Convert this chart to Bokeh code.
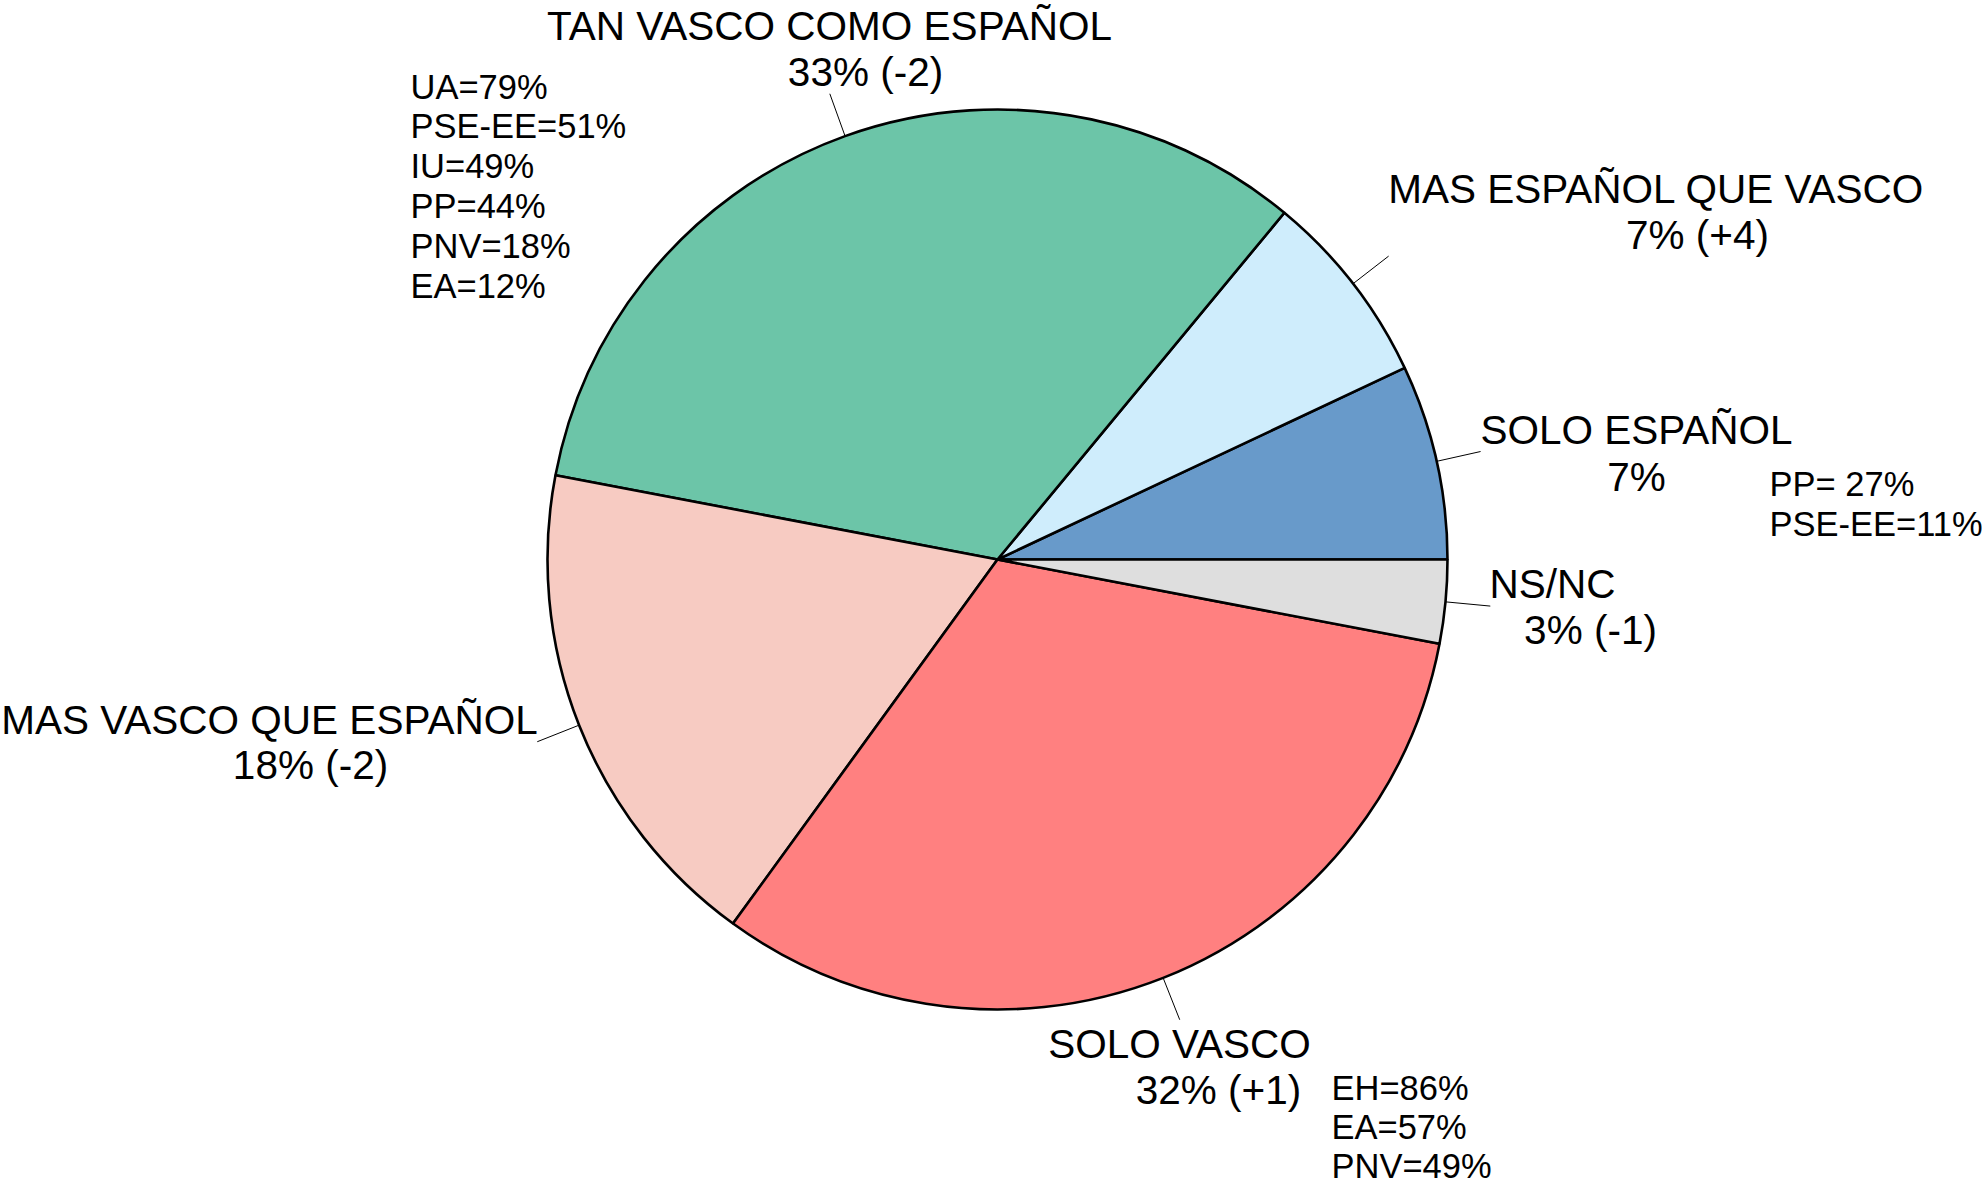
import math
from bokeh.plotting import figure
from bokeh.models import Range1d, ColumnDataSource
from bokeh.core.properties import value
from bokeh.embed import file_html
from bokeh.resources import INLINE

# ---- data ----
categories = ["SOLO ESPAÑOL", "MAS ESPAÑOL QUE VASCO", "TAN VASCO COMO ESPAÑOL",
              "MAS VASCO QUE ESPAÑOL", "SOLO VASCO", "NS/NC"]
shares = [7, 7, 33, 18, 32, 3]
changes = ["", "(+4)", "(-2)", "(-2)", "(+1)", "(-1)"]
colors = ["#689ACA", "#CFEDFC", "#6CC5A8", "#F7CBC2", "#FF8080", "#DEDEDE"]

tan_parties = ["UA=79%", "PSE-EE=51%", "IU=49%", "PP=44%", "PNV=18%", "EA=12%"]
solo_esp_parties = ["PP= 27%", "PSE-EE=11%"]
solo_vasco_parties = ["EH=86%", "EA=57%", "PNV=49%"]

# ---- layout (reference pixel space; y = -pixel row) ----
W, H = 1982, 1191
CX, CY, R = 997, -559, 450
DY = 14  # baseline correction
FONT = value("Liberation Sans")

p = figure(width=W, height=H, output_backend="svg", toolbar_location=None,
           x_range=Range1d(0, W), y_range=Range1d(-H, 0),
           min_border=0, outline_line_color=None, background_fill_color="white")
p.axis.visible = False
p.grid.visible = False

total = sum(shares)
starts, ends, mids = [], [], []
acc = 0.0
for s in shares:
    a0 = 2 * math.pi * acc / total
    acc += s
    a1 = 2 * math.pi * acc / total
    starts.append(a0); ends.append(a1); mids.append((a0 + a1) / 2)

src = ColumnDataSource(dict(x=[CX] * len(shares), y=[CY] * len(shares),
                            start=starts, end=ends, color=colors))
p.wedge(x="x", y="y", radius=R, start_angle="start", end_angle="end",
        fill_color="color", line_color="black", line_width=2.6, source=src)

# leader lines from 1.0 R to 1.1 R at slice mid-angles
xs = [[CX + R * math.cos(m), CX + 1.1 * R * math.cos(m)] for m in mids]
ys = [[CY + R * math.sin(m), CY + 1.1 * R * math.sin(m)] for m in mids]
p.multi_line(xs=xs, ys=ys, line_color="black", line_width=1)

# label placement: (name x, name baseline, value x, value baseline)
label_pos = [
    (1636, 443, 1636, 490),
    (1656, 202, 1697, 248),
    (829, 39, 865, 85),
    (269, 733, 310, 778),
    (1179, 1057, 1218, 1103),
    (1552, 597, 1590, 643),
]
nx, ny, vx, vy, vtext = [], [], [], [], []
for i, (ax, ay, bx, by) in enumerate(label_pos):
    nx.append(ax); ny.append(-(ay - DY))
    vx.append(bx); vy.append(-(by - DY))
    vtext.append(f"{shares[i]}%" + (f" {changes[i]}" if changes[i] else ""))

p.text(x=nx, y=ny, text=categories, text_font=FONT, text_font_size="40.5px",
       text_align="center", text_baseline="alphabetic", text_color="black")
p.text(x=vx, y=vy, text=vtext, text_font=FONT, text_font_size="40.5px",
       text_align="center", text_baseline="alphabetic", text_color="black")

def party_block(items, left, first_base, step):
    p.text(x=[left] * len(items),
           y=[-(first_base - DY + step * k) for k in range(len(items))],
           text=items, text_font=FONT, text_font_size="34.5px",
           text_align="left", text_baseline="alphabetic", text_color="black")

party_block(tan_parties, 410, 100, 39.8)
party_block(solo_esp_parties, 1769, 497, 40)
party_block(solo_vasco_parties, 1331, 1101, 39)

open("out.html", "w").write(file_html(p, INLINE))
